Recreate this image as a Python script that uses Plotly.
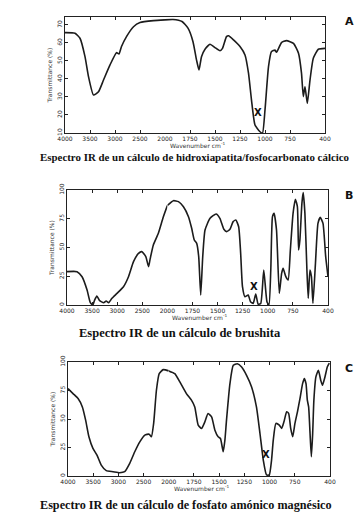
import plotly.graph_objects as go

# The page body has an 8px margin, so the figure is drawn at (8, 8) in the window.
OFF = 8
WIN_W, WIN_H = 364, 515
W, H = WIN_W - OFF, WIN_H - OFF

# ---------------- data ----------------
wn_a = [4000,3800,3700,3600,3530,3430,3330,3230,3100,2970,2920,2870,2770,2630,2500,
        2230,2000,1920,1830,1770,1720,1685,1660,1635,1600,1550,1500,1450,1425,1385,
        1365,1315,1250,1200,1165,1135,1100,1050,1025,1000,965,935,900,885,835,
        785,715,665,635,617,600,577,550,517,467,400]
t_a = [65.7,65.4,62.6,52.4,41.3,31.1,32.9,39.4,47.8,54.6,53.9,58,63.5,69,71.3,
       72.4,72.8,73,71.9,68.2,60.7,50.6,45,52.4,56.5,59.3,57.4,55.7,57,63.5,
       64,61.7,58,53.3,43.2,28.3,14.4,10.7,10,22.8,46.8,55.2,56,54.8,60.2,
       61.3,59.8,54.3,43.2,30.2,35.7,26.5,39.4,51.5,56.5,57]

wn_b = [4000,3800,3700,3600,3535,3485,3450,3405,3350,3270,3220,3170,3105,3005,2875,
        2775,2675,2575,2510,2430,2375,2345,2280,2180,2080,2000,1940,1890,1840,1790,
        1758,1732,1708,1688,1668,1648,1625,1575,1515,1477,1437,1410,1377,1345,1318,
        1290,1270,1252,1228,1195,1172,1145,1120,1095,1070,1040,1008,988,970,953,
        937,913,885,862,847,820,797,775,748,725,705,693,680,660,647,
        630,610,597,580,565,550,525,500,477,450,423,400]
t_b = [29,29,24.6,13,2,0,4.3,7.8,3.8,2,3.5,2,5.8,10.1,15.9,
       24.6,37.7,44.9,46.4,42,33.3,39.7,52.2,62.3,76.8,86.5,90.7,89.9,85.5,76.8,
       66.7,56.5,53.6,42,8.7,42,65.2,75.4,79.1,75.4,65.8,63.8,65.8,72.5,73.9,
       68.1,44.9,15.9,7.2,8.7,2.9,1.4,9.6,0.6,1.4,30.4,2.9,0,30.4,76.8,
       79.7,65.2,10.1,27.5,31.9,24.6,21.7,47.8,79.7,91.9,85.5,47.8,56.5,88.4,97.7,
       79.7,30.4,5.8,30.4,24.6,1.4,36.2,71,76.2,71,42,24.6]

wn_c = [4000,3900,3800,3715,3650,3585,3505,3425,3340,3240,3105,2975,2875,2775,2675,
        2575,2475,2390,2345,2300,2245,2190,2110,2000,1940,1890,1825,1775,1742,1708,
        1675,1642,1610,1575,1542,1510,1487,1460,1443,1427,1393,1360,1320,1277,1228,
        1178,1130,1095,1062,1030,1003,980,963,937,903,880,857,830,810,790,
        770,748,723,698,672,655,638,625,612,598,585,572,560,540,515,
        492,475,450,427,407]
t_c = [76.7,72.3,67.9,60.6,49,34.4,24.2,18.4,9.6,4.7,3.8,2.9,3.8,11.1,21.3,
       30,35.9,36.7,34.4,46.1,75.2,89.8,93.3,92.2,89.8,82.5,72.3,66.5,60.6,44.6,
       41.7,47.5,54.8,51.9,40.2,34.4,32.9,21.3,31.5,49,81,97.1,98.5,95.6,88.3,
       78.1,60.6,37.3,14,0.9,0.9,14,31.5,46.1,44.6,41.7,47.5,56.3,54.8,41.7,
       34.4,46.1,56.3,67.9,81,85.4,81,66.5,60.6,37.3,16.9,37.3,66.5,86.9,92.7,
       84,79.6,86.9,95.6,99]

xticks_hi = [4000, 3500, 3000, 2500, 2000]
xticks_lo = [1750, 1500, 1250, 1000, 750, 400]
yticks_a = [10, 20, 30, 40, 50, 60, 70]
yticks_bc = [0, 25, 50, 75, 100]

captions = [
    "Espectro IR de un cálculo de hidroxiapatita/fosfocarbonato cálcico",
    "Espectro IR de un cálculo de brushita",
    "Espectro IR de un cálculo de fosfato amónico magnésico",
]
letters = ["A", "B", "C"]
x_marks = [(1070, 21.5), (1138, 16.5), (1040, 19.2)]

# ---------------- layout geometry (window pixels) ----------------
panels = [
    dict(wn=wn_a, t=t_a, x0=65, x1=325, top=17, bot=133, yr=[10, 74.4], yt=yticks_a,
         cap_y=157, cap_x=195, cap_size=10.9, let_y=21),
    dict(wn=wn_b, t=t_b, x0=67, x1=328, top=190, bot=305, yr=[0, 100], yt=yticks_bc,
         cap_y=333, cap_x=180, cap_size=12.5, let_y=195),
    dict(wn=wn_c, t=t_c, x0=68, x1=330, top=362, bot=476, yr=[0, 100], yt=yticks_bc,
         cap_y=505, cap_x=186, cap_size=12.2, let_y=368),
]

def px(x):
    return (x - OFF) / W

def py(y):
    return 1 - (y - OFF) / H

fig = go.Figure()
layout = dict(width=W, height=H, margin=dict(l=0, r=0, t=0, b=0, autoexpand=False),
              paper_bgcolor="white", plot_bgcolor="white", showlegend=False,
              template="none")
annotations = []

tickfont = dict(family="DejaVu Sans", size=6, color="#222")
line_style = dict(color="#1c1c1c", width=1.6, shape="spline", smoothing=0.5)

for i, p in enumerate(panels):
    xs = p["x0"] + (p["x1"] - p["x0"]) * 4 / 10.4
    ia, ib = 2 * i + 1, 2 * i + 2
    xa, xb = f"x{ia}", f"x{ib}"
    ya, yb = f"y{ia}", f"y{ib}"
    hi = [(w, t) for w, t in zip(p["wn"], p["t"]) if w >= 2000]
    lo = [(w, t) for w, t in zip(p["wn"], p["t"]) if w <= 2000]
    fig.add_trace(go.Scatter(x=[a for a, _ in hi], y=[b for _, b in hi], mode="lines",
                             line=line_style, xaxis=xa, yaxis=ya, hoverinfo="skip"))
    fig.add_trace(go.Scatter(x=[a for a, _ in lo], y=[b for _, b in lo], mode="lines",
                             line=line_style, xaxis=xb, yaxis=yb, hoverinfo="skip"))
    ydom = [py(p["bot"]), py(p["top"])]
    common_x = dict(showline=True, linecolor="#222", linewidth=1.2, mirror="allticks",
                    ticks="inside", ticklen=3, tickcolor="#222", showgrid=False,
                    zeroline=False, tickfont=tickfont, fixedrange=True, automargin=False)
    layout[f"xaxis{ia}"] = dict(common_x, domain=[px(p["x0"]), px(xs)], range=[4000, 2000],
                                tickvals=xticks_hi, anchor=ya)
    layout[f"xaxis{ib}"] = dict(common_x, domain=[px(xs), px(p["x1"])], range=[2000, 400],
                                tickvals=xticks_lo, anchor=yb)
    layout[f"yaxis{ia}"] = dict(domain=ydom, range=p["yr"], tickvals=p["yt"], anchor=xa,
                                showline=True, linecolor="#222", linewidth=1.2,
                                ticks="inside", ticklen=3, tickcolor="#222",
                                showgrid=False, zeroline=False, tickangle=-90,
                                tickfont=tickfont, fixedrange=True, automargin=False,
                                title=dict(text="Transmittance (%)", standoff=2,
                                           font=dict(family="DejaVu Sans", size=6, color="#333")))
    layout[f"yaxis{ib}"] = dict(domain=ydom, range=p["yr"], tickvals=p["yt"], anchor=xb,
                                side="right", showline=True, linecolor="#222", linewidth=1.2,
                                ticks="inside", ticklen=3, tickcolor="#222",
                                showticklabels=False, showgrid=False, zeroline=False,
                                fixedrange=True, automargin=False)
    # x-axis title
    annotations.append(dict(xref="paper", yref="paper",
                            x=px((p["x0"] + p["x1"]) / 2 + 2), y=py(p["bot"] + 12),
                            text="Wavenumber cm<sup>-1</sup>", showarrow=False,
                            font=dict(family="DejaVu Sans", size=6, color="#333"),
                            xanchor="center", yanchor="middle"))
    # panel letter
    annotations.append(dict(xref="paper", yref="paper", x=px(349), y=py(p["let_y"]),
                            text=f"<b>{letters[i]}</b>", showarrow=False,
                            font=dict(family="DejaVu Sans", size=11, color="#111"),
                            xanchor="center", yanchor="middle"))
    # caption
    annotations.append(dict(xref="paper", yref="paper", x=px(p["cap_x"]), y=py(p["cap_y"]),
                            text=f"<b>{captions[i]}</b>", showarrow=False,
                            font=dict(family="Liberation Serif", size=p["cap_size"], color="#111"),
                            xanchor="center", yanchor="middle"))
    # X marker
    xm, ym = x_marks[i]
    annotations.append(dict(xref=xb, yref=yb, x=xm, y=ym, text="<b>X</b>", showarrow=False,
                            font=dict(family="DejaVu Sans", size=10, color="#111"),
                            xanchor="center", yanchor="middle"))

layout["annotations"] = annotations
fig.update_layout(**layout)
fig.write_html("out.html")
